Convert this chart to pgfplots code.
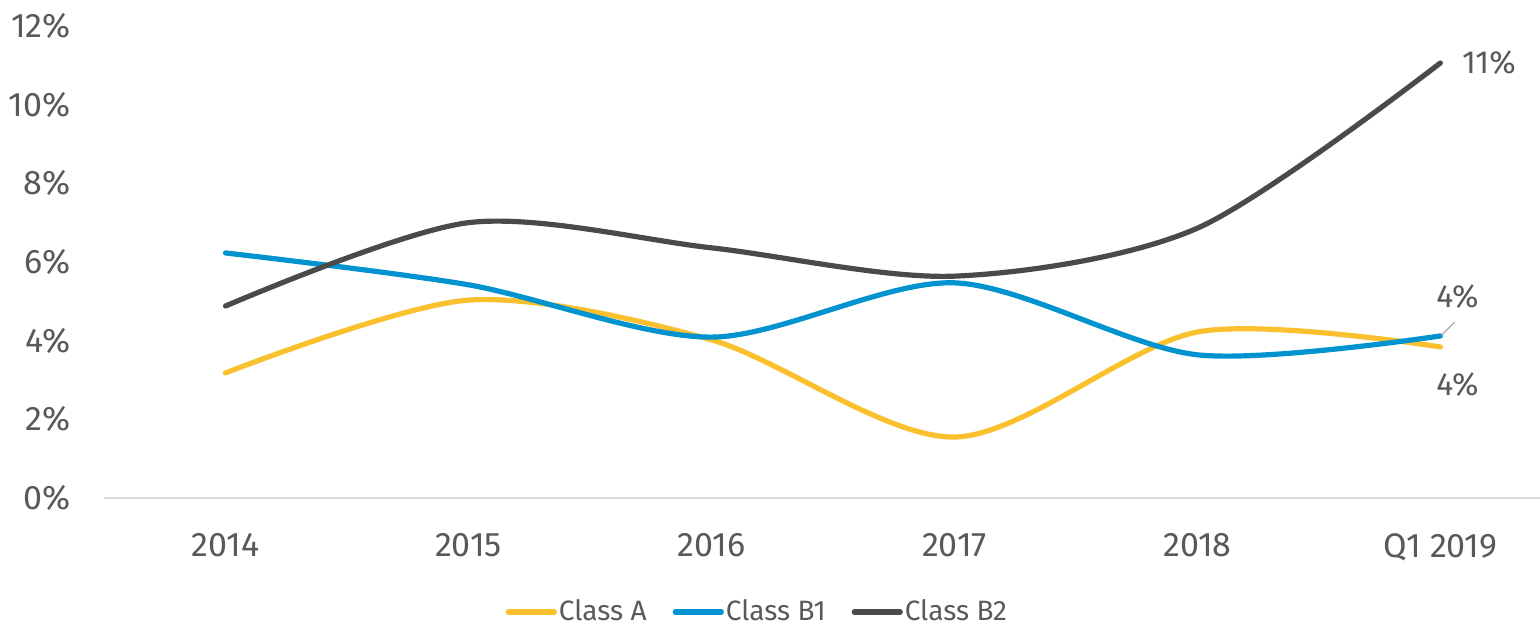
\documentclass[border=0pt]{standalone}
\usepackage{fontspec}
\setmainfont{Fira Sans}
\usepackage{pgfplots}
\pgfplotsset{compat=1.18}
\usetikzlibrary{calc}
\definecolor{clsA}{HTML}{FBC02D}
\definecolor{clsB1}{HTML}{0093D0}
\definecolor{clsB2}{HTML}{4A4A4A}
\definecolor{txt}{HTML}{595959}
\definecolor{axisgray}{HTML}{D9D9D9}

\begin{document}
\begin{tikzpicture}
\begin{axis}[
  name=ax, scale only axis, width=718pt, height=236pt,
  xmin=-0.5, xmax=5.41, ymin=0, ymax=12,
  xtick={0,1,2,3,4,5},
  xticklabels={2014,2015,2016,2017,2018,Q1 2019},
  ytick={0,2,4,6,8,10,12},
  yticklabel={\pgfmathprintnumber{\tick}\%},
  /pgf/number format/assume math mode=true,
  tick label style={font=\fontsize{17}{20}\selectfont, text=txt},
  yticklabel style={anchor=east, xshift=-11pt},
  xticklabel style={yshift=-12pt},
  axis x line=bottom, axis y line=left,
  x axis line style={draw=axisgray, line width=0.8pt, -},
  y axis line style={draw=none},
  tick style={draw=none},
  clip=false,
  every axis plot/.append style={line width=2.6pt, smooth, line cap=round, no markers},
  legend style={at={(0.455,-0.2415)}, anchor=center, draw=none, legend columns=3,
    font=\fontsize{14}{17}\selectfont, text=txt, inner sep=0pt,
    nodes={inner sep=1pt},
    /tikz/every even column/.append style={column sep=12pt}},
  legend image code/.code={\draw[#1, line width=2.6pt, line cap=round] (0pt,0pt) -- (23pt,0pt);},
]
\addplot[clsA] coordinates {(0,3.18) (1,5.03) (2,4.02) (3,1.55) (4,4.22) (5,3.84)};
\addlegendentry{Class A}
\addplot[clsB1] coordinates {(0,6.23) (1,5.42) (2,4.09) (3,5.47) (4,3.64) (5,4.12)};
\addlegendentry{Class B1}
\addplot[clsB2] coordinates {(0,4.88) (1,7.00) (2,6.36) (3,5.64) (4,6.86) (5,11.06)};
\addlegendentry{Class B2}
\node[anchor=west, text=txt, font=\fontsize{16}{19}\selectfont] at (axis cs:5.06,11.06) {11\%};
\draw[gray!70, line width=0.6pt] (axis cs:5.005,4.14) -- (axis cs:5.058,4.47);
\node[text=txt, font=\fontsize{16}{19}\selectfont] at (axis cs:5.07,5.11) {4\%};
\node[text=txt, font=\fontsize{16}{19}\selectfont] at (axis cs:5.07,2.87) {4\%};
\end{axis}
\pgfresetboundingbox
\path ($(ax.south west)+(-52pt,-65.5pt)$) rectangle ($(ax.north east)+(0pt,13pt)$);
\end{tikzpicture}
\end{document}
